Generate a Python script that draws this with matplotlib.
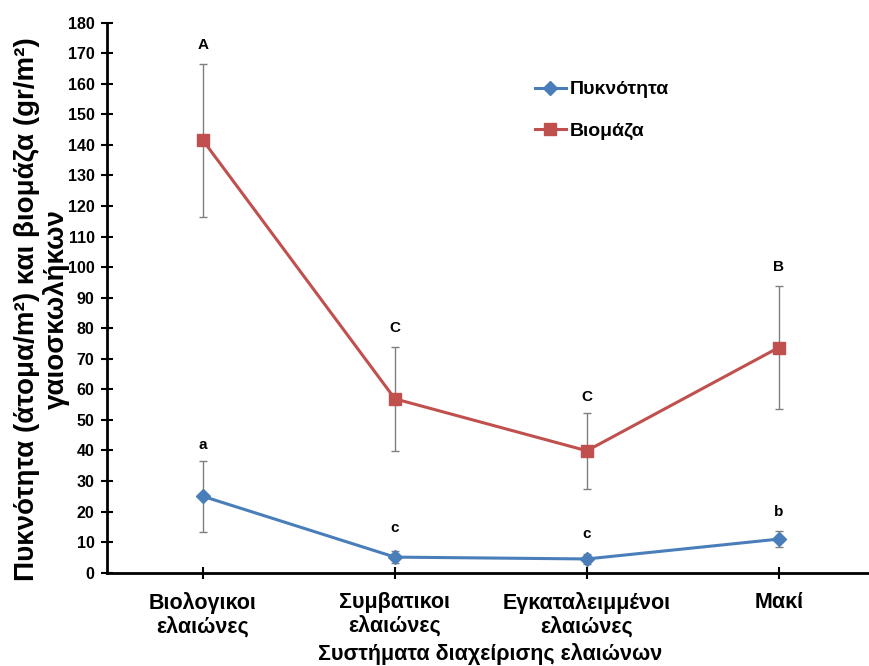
import numpy as np
import matplotlib.pyplot as plt

# ---- data ----
categories = ['Βιολογικοι\nελαιώνες', 'Συμβατικοι\nελαιώνες',
              'Εγκαταλειμμένοι\nελαιώνες', 'Μακί']
density = [25.0, 5.1, 4.5, 11.0]
density_err = [11.7, 2.0, 1.5, 2.6]
biomass = [141.5, 56.9, 39.9, 73.7]
biomass_err = [25.0, 17.0, 12.5, 20.0]
density_letters = ['a', 'c', 'c', 'b']
density_letter_y = [41.7, 14.7, 12.7, 19.9]
biomass_letters = ['A', 'C', 'C', 'B']
biomass_letter_y = [172.7, 80.2, 57.6, 100.0]

blue = '#4a7ebb'
red = '#c0504d'
plt.rcParams['font.family'] = ['Liberation Sans', 'DejaVu Sans']

fig = plt.figure(figsize=(8.69, 6.66), dpi=100)
ax = fig.add_axes([107/869, 1 - 572.7/666, 1 - 107/869, (572.7 - 22.7)/666])

x = np.arange(len(categories))

# error bars first, behind the lines
ax.errorbar(x, density, yerr=density_err, fmt='none', ecolor='#7f7f7f',
            elinewidth=1, capsize=3, capthick=1, zorder=1)
ax.errorbar(x, biomass, yerr=biomass_err, fmt='none', ecolor='#7f7f7f',
            elinewidth=1, capsize=3, capthick=1, zorder=1)

ax.plot(x, density, color=blue, lw=2.2, marker='D', ms=7.5, label='Πυκνότητα', zorder=3)
ax.plot(x, biomass, color=red, lw=2.2, marker='s', ms=8.5, label='Βιομάζα', zorder=3)

for i in range(len(x)):
    ax.text(x[i], density_letter_y[i], density_letters[i], ha='center', va='center',
            fontsize=11, fontweight='bold')
    ax.text(x[i], biomass_letter_y[i], biomass_letters[i], ha='center', va='center',
            fontsize=11, fontweight='bold')

ax.set_xlim(-0.5, 3.47)
ax.set_ylim(0, 180)
ax.set_yticks(np.arange(0, 181, 10))
ax.set_xticks(x)
ax.set_xticklabels(categories, fontsize=15.5, fontweight='bold', linespacing=1.1)
for lbl in ax.get_yticklabels():
    lbl.set_fontweight('bold')
    lbl.set_fontsize(11.5)

ax.tick_params(axis='y', direction='inout', length=8, width=1.5, pad=5)
ax.tick_params(axis='x', direction='inout', length=8, width=1.5, pad=10)
ax.spines['top'].set_visible(False)
ax.spines['right'].set_visible(False)
ax.spines['left'].set_linewidth(2)
ax.spines['bottom'].set_linewidth(2)

fig.text(490/869, 1 - 660/666, 'Συστήματα διαχείρισης ελαιώνων', ha='center',
         va='baseline', fontsize=15.5, fontweight='bold')

fig.text(42/869, 1 - 309/666,
         'Πυκνότητα (άτομα/m²) και βιομάζα (gr/m²)\nγαιοσκωλήκων',
         rotation=90, ha='center', va='center', multialignment='center',
         fontsize=20, fontweight='bold', linespacing=1.15)

leg = ax.legend(loc='upper left', bbox_to_anchor=(527/869, 1 - 73/666),
                bbox_transform=fig.transFigure, frameon=False, borderaxespad=0,
                handlelength=1.6, handletextpad=0.2, labelspacing=1.2,
                prop={'size': 14, 'weight': 'bold'})

fig.savefig('out.png', dpi=100)
